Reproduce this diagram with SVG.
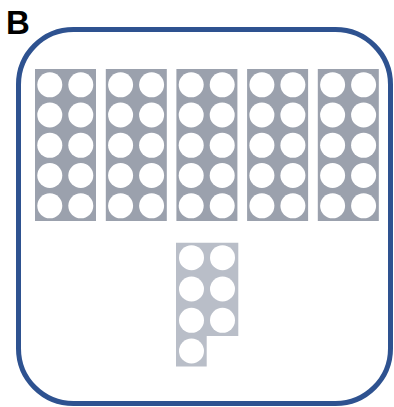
<svg xmlns="http://www.w3.org/2000/svg" width="394" height="407" viewBox="0 0 394 407">
<style>
.frame{fill:none;stroke:#2e5290;stroke-width:5}
.tile{fill:#9ba1ad}
.tile2{fill:#b9bec8}
.hole{fill:#ffffff}
.lbl{font-family:"Liberation Sans",Arial,sans-serif;font-weight:bold;font-size:33px;fill:#000}
</style>
<defs>
<g id="ten">
<rect class="tile" x="0" y="0" width="61" height="152"/>
<circle class="hole" cx="14.8" cy="15.8" r="12.5"/><circle class="hole" cx="45.8" cy="15.8" r="12.5"/>
<circle class="hole" cx="14.8" cy="46" r="12.5"/><circle class="hole" cx="45.8" cy="46" r="12.5"/>
<circle class="hole" cx="14.8" cy="76.3" r="12.5"/><circle class="hole" cx="45.8" cy="76.3" r="12.5"/>
<circle class="hole" cx="14.8" cy="106.5" r="12.5"/><circle class="hole" cx="45.8" cy="106.5" r="12.5"/>
<circle class="hole" cx="14.8" cy="136.8" r="12.5"/><circle class="hole" cx="45.8" cy="136.8" r="12.5"/>
</g>
</defs>
<text class="lbl" x="6" y="34">B</text>
<rect id="frame" class="frame" x="18.5" y="29.5" width="372" height="374" rx="55" ry="55"/>
<g id="tile1"><use href="#ten" x="35" y="69"/></g>
<g id="tile2"><use href="#ten" x="105.8" y="69"/></g>
<g id="tile3"><use href="#ten" x="176.4" y="69"/></g>
<g id="tile4"><use href="#ten" x="247.1" y="69"/></g>
<g id="tile5"><use href="#ten" x="317.8" y="69"/></g>
<g id="tile6">
<path class="tile2" d="M176 242.7 H238.3 V336 H206.7 V366.5 H176 Z"/>
<circle class="hole" cx="191.5" cy="257.7" r="12.5"/><circle class="hole" cx="222.5" cy="257.7" r="12.5"/>
<circle class="hole" cx="191.5" cy="289" r="12.5"/><circle class="hole" cx="222.5" cy="289" r="12.5"/>
<circle class="hole" cx="191.5" cy="320.3" r="12.5"/><circle class="hole" cx="222.5" cy="320.3" r="12.5"/>
<circle class="hole" cx="191.5" cy="351" r="12.5"/>
</g>
</svg>
